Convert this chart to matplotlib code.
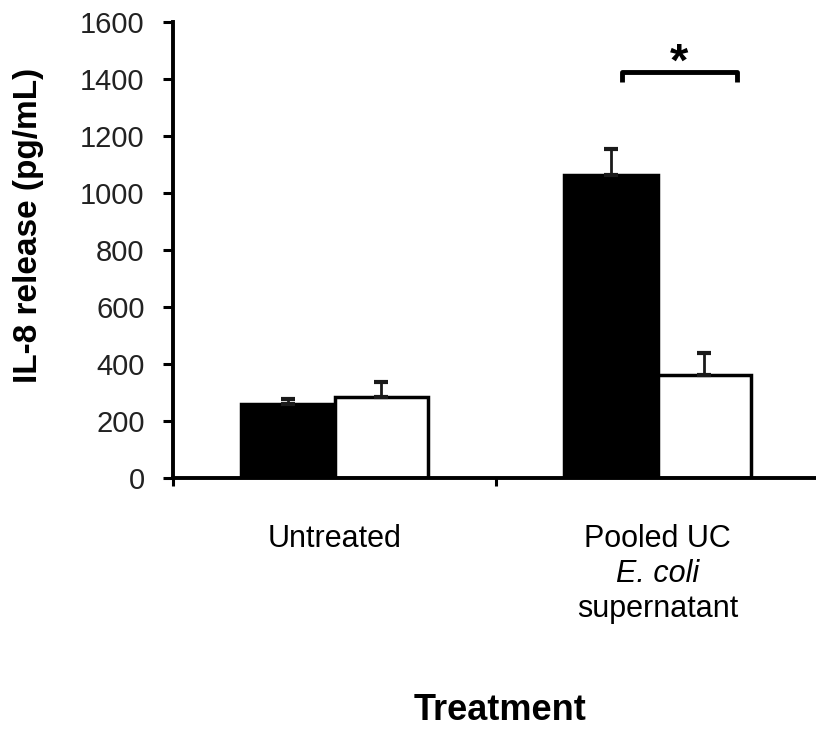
import numpy as np
import matplotlib.pyplot as plt
import matplotlib.transforms as mtransforms

plt.rcParams['font.family'] = ['Liberation Sans', 'DejaVu Sans']

# IL-8 release per treatment (pg/mL), mean and upper SD
groups = ['Untreated', 'Pooled UC']
black_vals = [258, 1065]
black_err = [18, 92]
white_vals = [285, 360]
white_err = [50, 78]

# significance bracket over the pooled pair
sig_x = (1.39, 1.745)
sig_y = 1425
sig_drop = 35

fig = plt.figure(figsize=(8.16, 7.29), dpi=100)
ax = fig.add_axes([173 / 816, 251.3 / 729, 646 / 816, 455.2 / 729])

centers = np.arange(len(groups)) + 0.5
width = 0.288

ax.bar(centers - width / 2, black_vals, width, color='black',
       edgecolor='black', linewidth=2.5, zorder=2)
ax.bar(centers + width / 2, white_vals, width, color='white',
       edgecolor='black', linewidth=2.5, zorder=2)

# only the upper half of each error bar is drawn
for xs, vals, errs in [(centers - width / 2, black_vals, black_err),
                       (centers + width / 2, white_vals, white_err)]:
    ax.errorbar(xs, vals, yerr=[np.zeros(len(errs)), errs], fmt='none',
                ecolor='#1a1a1a', elinewidth=2, capsize=5, capthick=3,
                zorder=3)

ax.plot([sig_x[0], sig_x[0], sig_x[1], sig_x[1]],
        [sig_y - sig_drop, sig_y, sig_y, sig_y - sig_drop],
        color='black', lw=3.5, solid_joinstyle='round',
        solid_capstyle='butt', clip_on=False)
ax.text(np.mean(sig_x), sig_y - 12, '*', ha='center', va='baseline',
        fontsize=34, fontweight='bold')

ax.set_xlim(0, 2)
ax.set_ylim(0, 1600)
ax.set_yticks(np.arange(0, 1601, 200))
ax.set_xticks([0, 1, 2])
ax.set_xticklabels([])

for side in ['top', 'right']:
    ax.spines[side].set_visible(False)
for side in ['left', 'bottom']:
    ax.spines[side].set_linewidth(2.8)

ax.tick_params(axis='y', direction='out', length=7.5, width=2.2,
               labelsize=21, pad=13, colors='black', labelcolor='#222222')
ax.tick_params(axis='x', direction='out', length=6, width=2.2)

ax.set_ylabel('IL-8 release (pg/mL)', fontsize=24, fontweight='bold')
ax.yaxis.set_label_coords(-0.2, 0.555)

# category labels below the axis
blend = mtransforms.blended_transform_factory(ax.transData, fig.transFigure)
line_y = [(729 - 547) / 729, (729 - 582) / 729, (729 - 617) / 729]

ax.text(centers[0], line_y[0], 'Untreated', transform=blend, ha='center',
        va='baseline', fontsize=22)
ax.text(centers[1], line_y[0], 'Pooled UC', transform=blend, ha='center',
        va='baseline', fontsize=22)
ax.text(centers[1], line_y[1], 'E. coli', transform=blend, ha='center',
        va='baseline', fontsize=22, style='italic')
ax.text(centers[1], line_y[2], 'supernatant', transform=blend, ha='center',
        va='baseline', fontsize=22)

fig.text(500 / 816, (729 - 720) / 729, 'Treatment', ha='center',
         va='baseline', fontsize=26, fontweight='bold')

fig.savefig('out.png', dpi=100)
